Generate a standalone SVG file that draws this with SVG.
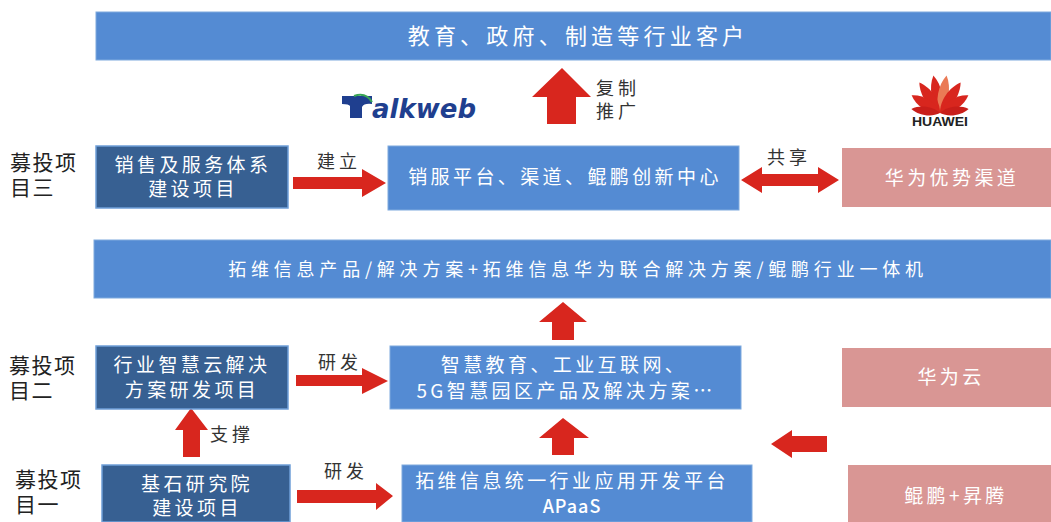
<svg xmlns="http://www.w3.org/2000/svg" width="1051" height="522" viewBox="0 0 1051 522">
<style>
text{font-family:"Noto Sans CJK SC","Liberation Sans",sans-serif;text-anchor:middle}
.w{fill:#fff;font-size:19px;letter-spacing:3.4px}
.b{fill:#333;font-size:18px;letter-spacing:4px}
.l{fill:#222;font-size:21px;letter-spacing:1.5px;text-anchor:start}
.lt{fill:#548bd3;stroke:#7eaade;stroke-width:1}
.dk{fill:#376092;stroke:#6f9fd8;stroke-width:1.5}
.pk{fill:#d99694}
.ar{fill:#d8261e}
</style>
<defs><path id="petal" d="M0 0C-7 -10 -7 -27 0 -38C7 -27 7 -10 0 0Z"/></defs>
<rect width="1051" height="522" fill="#fff"/>
<g id="connectors">
<path class="ar" d="M547 124V97H532L562 68L591 97H576V124Z"/>
<path class="ar" d="M293 177H362V169L386 183L362 197V189H293Z"/>
<path class="ar" d="M741 180L762 167V174H818V167L839 180L818 193V186H762V193Z"/>
<path class="ar" d="M552 340V322H539L563 302L587 322H574V340Z"/>
<path class="ar" d="M296 375H362V368L388 381L362 394V386H296Z"/>
<path class="ar" d="M552 455V438H539L563 418L589 438H574V455Z"/>
<path class="ar" d="M827 436V452H792V458L771 444L792 430V436Z"/>
<path class="ar" d="M183 457V430H175L191 408L208 430H200V457Z"/>
<path class="ar" d="M297 490H376V483L393 496L376 510V503H297Z"/>
</g>
<g id="n-customers"><rect class="lt" x="96" y="12" width="955" height="48"/><text class="w" x="578" y="44" style="font-size:22px;letter-spacing:4.2px">教育、政府、制造等行业客户</text></g>
<g id="logo-talkweb">
<path d="M342 96H372V104Q364 103 362 107V118H350V106Q349 104 342 104Z" fill="#1f3f8f"/>
<path d="M354 96Q366 92 372 102" fill="none" stroke="#3aa655" stroke-width="2"/>
<text x="372" y="118" style="font-family:'DejaVu Sans',sans-serif;font-size:26px;font-weight:700;font-style:italic;fill:#1f3f8f;text-anchor:start">alkweb</text>
</g>
<g id="logo-huawei">
<g fill="#d8261e" transform="translate(940 113)">
<use href="#petal" transform="rotate(-10)"/>
<use href="#petal" fill="#ea7a55" transform="rotate(10)"/>
<use href="#petal" transform="rotate(-34) scale(1 .97)"/>
<use href="#petal" transform="rotate(34) scale(1 .97)"/>
<use href="#petal" transform="rotate(-58) scale(1 .88)"/>
<use href="#petal" transform="rotate(58) scale(1 .88)"/>
<use href="#petal" fill="#c81e1a" transform="rotate(-82) scale(.8 .76)"/>
<use href="#petal" fill="#c81e1a" transform="rotate(82) scale(.8 .76)"/>
</g>
<text x="912" y="126" textLength="56" lengthAdjust="spacingAndGlyphs" style="font-family:'Liberation Sans',sans-serif;font-size:12px;font-weight:700;fill:#222;text-anchor:start">HUAWEI</text>
</g>
<text class="b" x="618" y="95">复制</text>
<text class="b" x="618" y="118">推广</text>
<text class="l" x="10" y="170">募投项<tspan x="10" dy="25">目三</tspan></text>
<text class="l" x="9" y="373">募投项<tspan x="9" dy="25">目二</tspan></text>
<text class="l" x="15" y="487">募投项<tspan x="15" dy="25">目一</tspan></text>
<g id="n-sales"><rect class="dk" x="96" y="146" width="192" height="62"/><text class="w" x="193" y="172">销售及服务体系</text><text class="w" x="193" y="196">建设项目</text></g>
<text class="b" x="339" y="168">建立</text>
<g id="n-platform"><rect class="lt" x="388" y="146" width="351" height="64"/><text class="w" x="565" y="184">销服平台、渠道、鲲鹏创新中心</text></g>
<text class="b" x="789" y="164">共享</text>
<g id="n-hw-channel"><rect class="pk" x="842" y="148" width="209" height="59"/><text class="w" x="952" y="185">华为优势渠道</text></g>
<g id="n-products"><rect class="lt" x="94" y="240" width="957" height="58"/><text class="w" x="578" y="276" style="font-size:18px;letter-spacing:4.8px">拓维信息产品/解决方案+拓维信息华为联合解决方案/鲲鹏行业一体机</text></g>
<g id="n-cloud-project"><rect class="dk" x="96" y="346" width="192" height="63"/><text class="w" x="192" y="372">行业智慧云解决</text><text class="w" x="192" y="397">方案研发项目</text></g>
<text class="b" x="340" y="369">研发</text>
<g id="n-solutions"><rect class="lt" x="390" y="346" width="351" height="63"/><text class="w" x="564" y="372">智慧教育、工业互联网、</text><text class="w" x="566" y="398">5G智慧园区产品及解决方案…</text></g>
<g id="n-hw-cloud"><rect class="pk" x="842" y="348" width="209" height="59"/><text class="w" x="951" y="384">华为云</text></g>
<text class="b" x="232" y="441">支撑</text>
<g id="n-research"><rect class="dk" x="102" y="465" width="188" height="57"/><text class="w" x="197" y="491">基石研究院</text><text class="w" x="197" y="515">建设项目</text></g>
<text class="b" x="346" y="478">研发</text>
<g id="n-apaas"><rect class="lt" x="402" y="465" width="350" height="57"/><text class="w" x="572" y="488">拓维信息统一行业应用开发平台</text><text class="w" x="572" y="513" style="letter-spacing:1px;font-size:18px;font-weight:500">APaaS</text></g>
<g id="n-kunpeng"><rect class="pk" x="848" y="465" width="203" height="57"/><text class="w" x="956" y="503">鲲鹏+昇腾</text></g>
</svg>
